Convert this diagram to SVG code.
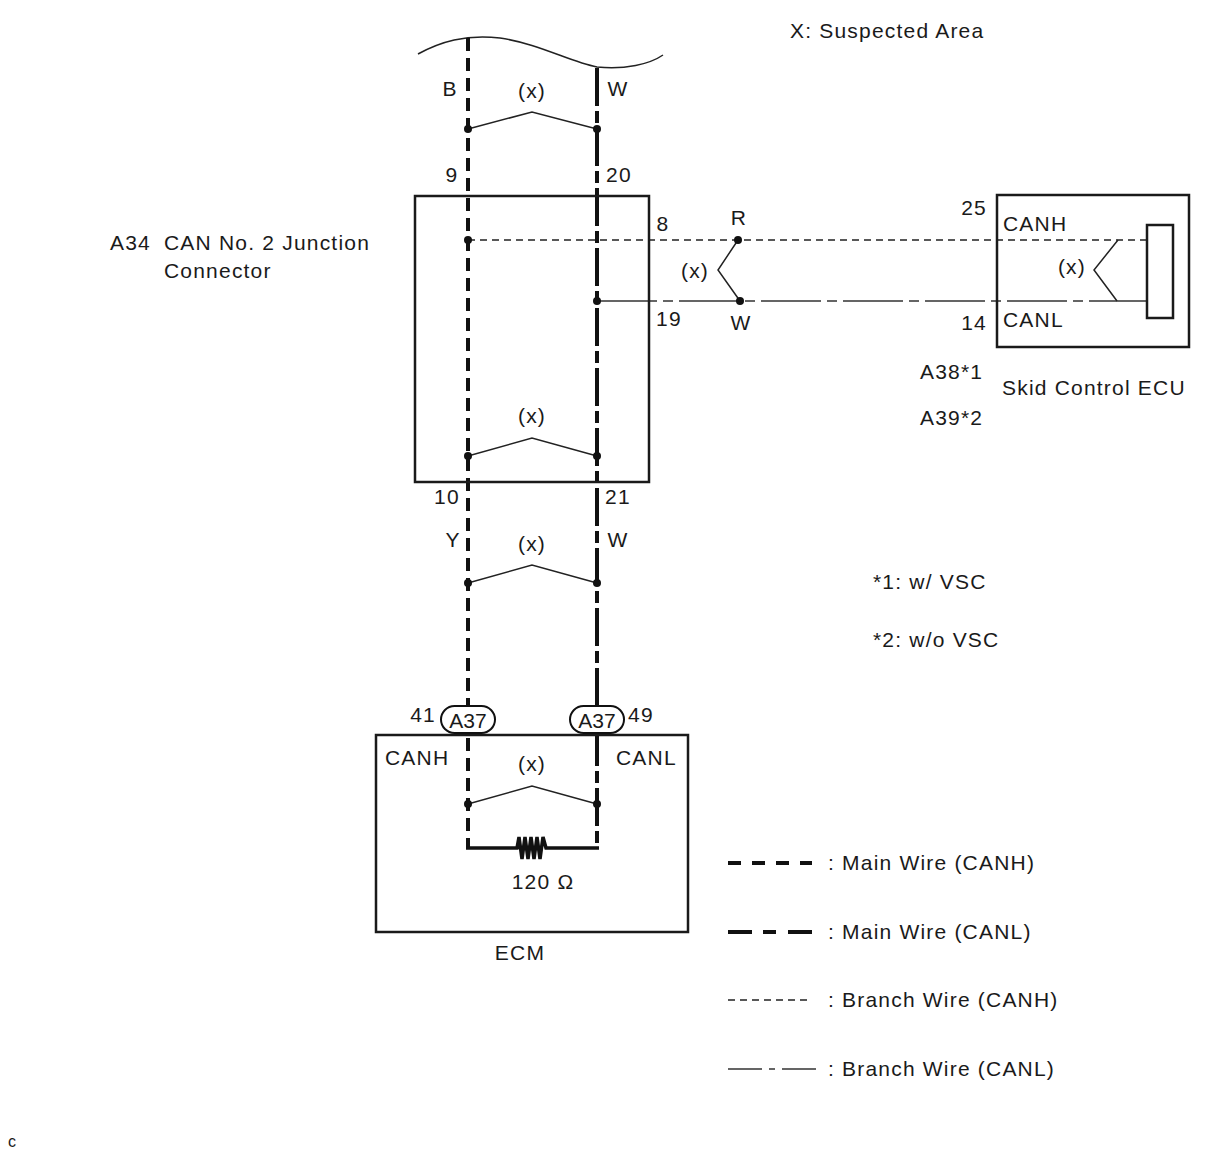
<svg xmlns="http://www.w3.org/2000/svg" width="1210" height="1156" viewBox="0 0 1210 1156">
<style>
text{font-family:"Liberation Sans",Arial,sans-serif;font-size:21px;letter-spacing:1.2px;fill:#1a1a1a}
.m{text-anchor:middle}
.e{text-anchor:end}
.box{fill:none;stroke:#1a1a1a;stroke-width:2.5}
.mh{fill:none;stroke:#111;stroke-width:4;stroke-dasharray:13 7}
.ml{fill:none;stroke:#111;stroke-width:4;stroke-dasharray:38 5 12 5}
.bh{fill:none;stroke:#222;stroke-width:1.6;stroke-dasharray:7 5}
.bl{fill:none;stroke:#333;stroke-width:1.6;stroke-dasharray:60 6 10 6}
.thin{fill:none;stroke:#222;stroke-width:1.5}
.dot{fill:#111}
</style>
<g id="title"><text x="790" y="38">X: Suspected Area</text></g>
<g id="harness-top">
<path class="thin" d="M418,54 C440,42 465,34 500,38 C540,44 570,62 597,67 C625,70 650,64 663,55" stroke-width="2"/>
</g>
<g id="connectors">
<line class="mh" x1="468" y1="38" x2="468" y2="848"/>
<line class="ml" x1="597" y1="68" x2="597" y2="848"/>
<line class="bh" x1="468" y1="240" x2="1147" y2="240"/>
<line class="bl" x1="597" y1="301" x2="1147" y2="301"/>
<polyline class="thin" points="468,129 532,112 597,129"/>
<polyline class="thin" points="468,456 532,438 597,456"/>
<polyline class="thin" points="468,583 532,565 597,583"/>
<polyline class="thin" points="468,804 532,786 597,804"/>
<polyline class="thin" points="738,240 718,270 740,301"/>
<polyline class="thin" points="1118,240 1094,270 1117,301"/>
<circle class="dot" cx="468" cy="129" r="4"/><circle class="dot" cx="597" cy="129" r="4"/>
<circle class="dot" cx="468" cy="456" r="4"/><circle class="dot" cx="597" cy="456" r="4"/>
<circle class="dot" cx="468" cy="583" r="4"/><circle class="dot" cx="597" cy="583" r="4"/>
<circle class="dot" cx="468" cy="804" r="4"/><circle class="dot" cx="597" cy="804" r="4"/>
<circle class="dot" cx="468" cy="240" r="4"/><circle class="dot" cx="597" cy="301" r="4"/>
<circle class="dot" cx="738" cy="240" r="4"/><circle class="dot" cx="740" cy="301" r="4"/>
</g>
<g id="wire-labels">
<text x="450" y="96" class="m">B</text>
<text x="618" y="96" class="m">W</text>
<text x="532" y="98" class="m">(x)</text>
<text x="452" y="182" class="m">9</text>
<text x="619" y="182" class="m">20</text>
<text x="663" y="231" class="m">8</text>
<text x="739" y="225" class="m">R</text>
<text x="695" y="278" class="m">(x)</text>
<text x="669" y="326" class="m">19</text>
<text x="741" y="330" class="m">W</text>
<text x="532" y="423" class="m">(x)</text>
<text x="447" y="504" class="m">10</text>
<text x="618" y="504" class="m">21</text>
<text x="453" y="547" class="m">Y</text>
<text x="618" y="547" class="m">W</text>
<text x="532" y="551" class="m">(x)</text>
</g>
<g id="junction-connector">
<rect class="box" x="415" y="196" width="234" height="286"/>
<text x="110" y="250">A34</text>
<text x="164" y="250">CAN No. 2 Junction</text>
<text x="164" y="278">Connector</text>
</g>
<g id="skid-control-ecu">
<rect class="box" x="997" y="195" width="192" height="152"/>
<rect class="box" x="1147" y="225" width="26" height="93"/>
<text x="987" y="215" class="e">25</text>
<text x="1003" y="231">CANH</text>
<text x="1086" y="274" class="e">(x)</text>
<text x="987" y="330" class="e">14</text>
<text x="1003" y="327">CANL</text>
<text x="920" y="379">A38*1</text>
<text x="1002" y="395">Skid Control ECU</text>
<text x="920" y="425">A39*2</text>
</g>
<g id="ecm">
<rect class="box" x="376" y="735" width="312" height="197"/>
<rect x="441" y="706" width="54" height="27" rx="13.5" fill="#fff" stroke="#111" stroke-width="2"/>
<rect x="570" y="706" width="54" height="27" rx="13.5" fill="#fff" stroke="#111" stroke-width="2"/>
<text x="468" y="728" class="m" style="letter-spacing:0">A37</text>
<text x="597" y="728" class="m" style="letter-spacing:0">A37</text>
<text x="436" y="722" class="e">41</text>
<text x="628" y="722">49</text>
<text x="385" y="765">CANH</text>
<text x="616" y="765">CANL</text>
<text x="532" y="771" class="m">(x)</text>
<path d="M466,848 H517 L519,837 L522,859 L525,837 L528,859 L531,837 L534,859 L537,837 L540,859 L543,837 L546,848 H599" fill="none" stroke="#111" stroke-width="3.5"/>
<text x="543" y="889" class="m">120 Ω</text>
<text x="520" y="960" class="m">ECM</text>
</g>
<g id="notes">
<text x="873" y="589">*1: w/ VSC</text>
<text x="873" y="647">*2: w/o VSC</text>
</g>
<g id="legend">
<line x1="728" y1="863" x2="812" y2="863" stroke="#111" stroke-width="4" stroke-dasharray="13 11"/>
<text x="828" y="870">: Main Wire (CANH)</text>
<path d="M728,932 H752 M763,932 H776 M788,932 H812" stroke="#111" stroke-width="4" fill="none"/>
<text x="828" y="939">: Main Wire (CANL)</text>
<line x1="728" y1="1000" x2="812" y2="1000" stroke="#222" stroke-width="1.6" stroke-dasharray="7 5"/>
<text x="828" y="1007">: Branch Wire (CANH)</text>
<path d="M728,1069 H762 M769,1069 H775 M782,1069 H816" stroke="#333" stroke-width="1.6" fill="none"/>
<text x="828" y="1076">: Branch Wire (CANL)</text>
</g>
<g id="footer"><text x="8" y="1147" style="font-size:16px;letter-spacing:0">c</text></g>
</svg>
